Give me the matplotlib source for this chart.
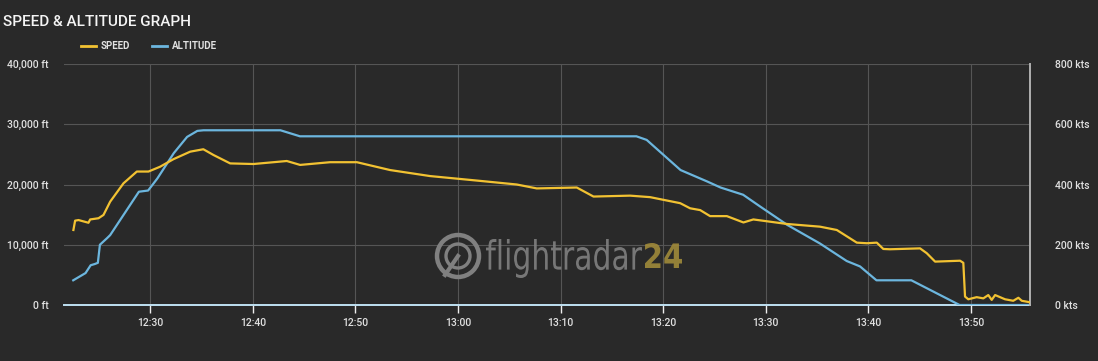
import matplotlib
matplotlib.use('Agg')
import matplotlib.pyplot as plt
import matplotlib.dates as mdates
import pandas as pd
from matplotlib.lines import Line2D
from matplotlib.textpath import TextPath
from matplotlib.patches import PathPatch, Circle
from matplotlib.font_manager import FontProperties
from matplotlib.transforms import Affine2D, IdentityTransform
from matplotlib.ticker import FuncFormatter

plt.rcParams['font.family'] = ['Roboto', 'DejaVu Sans']
plt.rcParams['font.weight'] = 'medium'

# altitude track (ft)
alt_time = ['12:22:30', '12:23:42', '12:24:12', '12:24:36', '12:24:54', '12:25:06',
            '12:25:48', '12:26:06', '12:28:54', '12:29:48', '12:30:42', '12:32:18',
            '12:33:36', '12:34:36', '12:35:12', '12:42:42', '12:44:36', '13:17:24',
            '13:18:24', '13:21:42', '13:24:18', '13:25:36', '13:27:48', '13:29:30',
            '13:32:06', '13:35:18', '13:37:54', '13:39:12', '13:40:48', '13:44:12',
            '13:48:54', '13:55:46']
alt_ft = [4100, 5300, 6600, 6800, 7000, 10000,
          11100, 11600, 18800, 19000, 21000, 25200,
          27900, 28900, 29000, 29000, 28000, 28000,
          27400, 22400, 20500, 19500, 18300, 16300,
          13300, 10200, 7300, 6400, 4100, 4100,
          0, 0]

# ground speed (kts)
spd_time = ['12:22:31', '12:22:41', '12:23:01', '12:23:59', '12:24:09', '12:24:58',
            '12:25:27', '12:26:06', '12:27:24', '12:28:42', '12:29:50', '12:30:58',
            '12:32:16', '12:33:54', '12:35:11', '12:36:10', '12:37:48', '12:40:04',
            '12:43:19', '12:44:37', '12:47:32', '12:50:09', '12:53:23', '12:57:17',
            '13:02:10', '13:05:44', '13:07:41', '13:11:35', '13:13:13', '13:16:47',
            '13:18:44', '13:21:40', '13:22:38', '13:23:37', '13:24:35', '13:26:13',
            '13:27:50', '13:28:48', '13:32:04', '13:35:18', '13:36:56', '13:38:53',
            '13:39:52', '13:40:50', '13:41:28', '13:42:07', '13:45:03', '13:45:42',
            '13:46:31', '13:48:57', '13:49:16', '13:49:26', '13:49:45', '13:50:34',
            '13:51:13', '13:51:42', '13:52:02', '13:52:22', '13:53:20', '13:54:08',
            '13:54:38', '13:54:58', '13:55:46']
spd_kts = [249, 280, 282, 273, 284, 288,
           299, 343, 404, 443, 443, 459,
           484, 509, 517, 498, 470, 468,
           478, 465, 474, 474, 448, 428,
           412, 400, 387, 390, 360, 363,
           358, 338, 321, 315, 295, 295,
           274, 284, 269, 260, 249, 207,
           205, 207, 186, 185, 188, 172,
           144, 147, 140, 28, 19, 26,
           22, 33, 17, 33, 19, 14,
           24, 14, 9]

alt_ticks = [0, 10000, 20000, 30000, 40000]
spd_ticks = [0, 200, 400, 600, 800]

BG = '#292929'
YELLOW = '#f2c232'
BLUE = '#6cb6de'
GRID = '#555555'
TXT = '#e0e0e0'

def to_dt(ts):
    return pd.to_datetime(['2020-01-01 ' + t for t in ts])

W, H = 1098, 361
fig = plt.figure(figsize=(W / 100, H / 100), dpi=100, facecolor=BG)
ax = fig.add_axes([64 / W, 56 / H, 966 / W, 241 / H])
ax.set_facecolor(BG)

# watermark
wm_grey = '#808080'
def stretch_text(s, x0, x1, y0, y1, color, weight='normal'):
    tp = TextPath((0, 0), s, size=50, prop=FontProperties(family='DejaVu Sans', weight=weight))
    ext = tp.get_extents()
    tr = (Affine2D().translate(-ext.x0, -ext.y0)
          .scale((x1 - x0) / ext.width, (y1 - y0) / ext.height)
          .translate(x0, H - y1))
    fig.add_artist(PathPatch(tp, transform=tr + IdentityTransform(), color=color, lw=0, alpha=0.9))
stretch_text('flightradar', 486, 642, 239, 278, wm_grey)
stretch_text('24', 645, 682, 243, 268, '#a08a3a', weight='bold')
for r, lw in [(21, 3.2), (12, 2.4)]:
    fig.add_artist(Circle((458, H - 256), r, transform=IdentityTransform(),
                          fill=False, ec=wm_grey, lw=lw))
fig.add_artist(Line2D([445, 458], [H - 275, H - 256], transform=IdentityTransform(),
                      color=wm_grey, lw=3))

ax.plot(to_dt(alt_time), alt_ft, color=BLUE, lw=1.6, zorder=3)
ax.set_ylim(0, 40000)
ax.set_yticks(alt_ticks)
ax.yaxis.set_major_formatter(FuncFormatter(lambda v, p: f'{v:,.0f} ft'))
ax.set_xlim(pd.Timestamp('2020-01-01 12:21:36'), pd.Timestamp('2020-01-01 13:55:46'))
ax.xaxis.set_major_locator(mdates.MinuteLocator(byminute=range(0, 60, 10)))
ax.xaxis.set_major_formatter(mdates.DateFormatter('%H:%M'))
ax.grid(True, color=GRID, lw=0.8)
ax.set_axisbelow(True)
ax.tick_params(axis='y', length=0, pad=11, labelcolor=TXT, labelsize=7.5)
ax.tick_params(axis='x', length=6, width=1, color='#eeeeee', pad=3, labelcolor=TXT, labelsize=7.5)
for s in ['top', 'left', 'right']:
    ax.spines[s].set_visible(False)
ax.spines['bottom'].set_color('#bfe0f2')
ax.spines['bottom'].set_linewidth(1.4)

ax2 = ax.twinx()
ax2.plot(to_dt(spd_time), spd_kts, color=YELLOW, lw=1.6, zorder=4)
ax2.set_ylim(0, 800)
ax2.set_yticks(spd_ticks)
ax2.yaxis.set_major_formatter(FuncFormatter(lambda v, p: f'{v:.0f} kts'))
ax2.tick_params(axis='y', length=0, pad=18, labelcolor=TXT, labelsize=7.5)
for s in ['top', 'left', 'bottom']:
    ax2.spines[s].set_visible(False)
ax2.spines['right'].set_color('#b0b0b0')
ax2.spines['right'].set_linewidth(1.4)

fig.text(3 / W, 1 - 22 / H, 'SPEED & ALTITUDE GRAPH', fontsize=11, color='#f4f4f4',
         va='center', ha='left')

handles = [Line2D([], [], color=YELLOW, lw=2), Line2D([], [], color=BLUE, lw=2)]
fig.legend(handles, ['SPEED', 'ALTITUDE'], loc='center left',
           bbox_to_anchor=(81 / W, 1 - 46 / H), ncol=2, frameon=False,
           handlelength=1.5, handletextpad=0.5, columnspacing=2.3,
           borderpad=0, borderaxespad=0,
           prop=FontProperties(family='Roboto', weight='bold', size=7), labelcolor=TXT)

fig.savefig('out.png', dpi=100, facecolor=BG)
